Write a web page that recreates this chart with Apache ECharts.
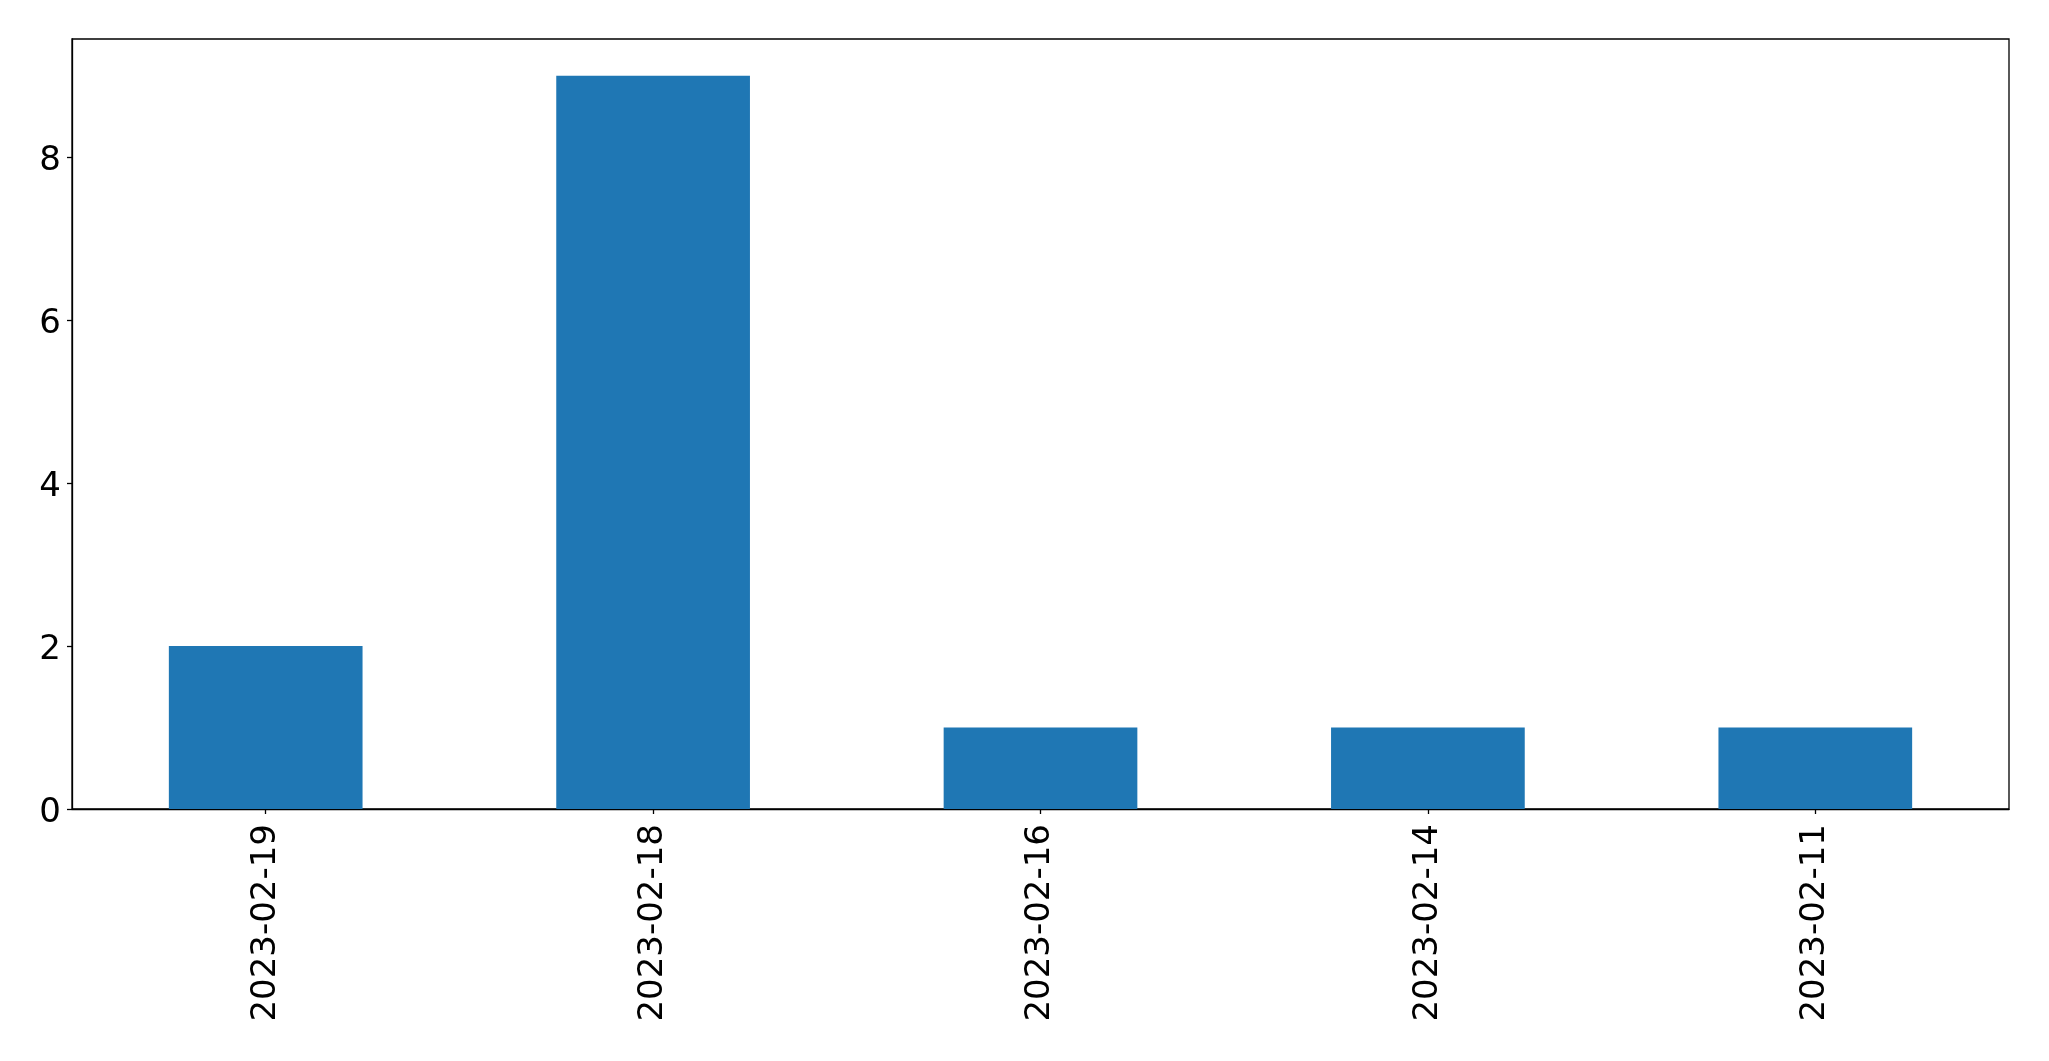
<!DOCTYPE html>
<html>
<head>
<meta charset="utf-8">
<script src="https://cdn.jsdelivr.net/npm/echarts@6/dist/echarts.min.js"></script>
<style>
html,body{margin:0;padding:0;background:#fff;}
#chart{width:2049px;height:1061px;}
</style>
</head>
<body>
<div id="chart"></div>
<script>
const categories = ['2023-02-19', '2023-02-18', '2023-02-16', '2023-02-14', '2023-02-11'];
const values = [2, 9, 1, 1, 1];
const yTicks = [0, 2, 4, 6, 8];

const chart = echarts.init(document.getElementById('chart'));
chart.setOption({
  animation: false,
  backgroundColor: '#ffffff',
  grid: {
    left: 72, top: 39, right: 40, bottom: 252,
    show: true, borderColor: '#000', borderWidth: 1.3, backgroundColor: 'transparent'
  },
  xAxis: {
    type: 'category',
    data: categories,
    axisLine: { show: true, lineStyle: { color: '#000', width: 1.3 } },
    axisTick: { show: true, alignWithLabel: true, length: 5, lineStyle: { color: '#000', width: 1.3 } },
    axisLabel: {
      rotate: 90, color: '#000', fontSize: 34, fontFamily: 'DejaVu Sans', margin: 15
    }
  },
  yAxis: {
    type: 'value',
    min: 0, max: 9.45, interval: 2,
    splitLine: { show: false },
    axisLine: { show: true, lineStyle: { color: '#000', width: 1.3 } },
    axisTick: { show: true, length: 5, customValues: yTicks, lineStyle: { color: '#000', width: 1.3 } },
    axisLabel: {
      color: '#000', fontSize: 34, fontFamily: 'DejaVu Sans', margin: 11,
      customValues: yTicks,
      formatter: function (v) { return '{a|' + v + '}'; },
      rich: { a: { fontSize: 34, fontFamily: 'DejaVu Sans', color: '#000', padding: [8, 0, 0, 0] } }
    }
  },
  series: [{
    type: 'bar',
    data: values,
    barWidth: '50%',
    itemStyle: { color: '#1f77b4' }
  }]
});
</script>
</body>
</html>
